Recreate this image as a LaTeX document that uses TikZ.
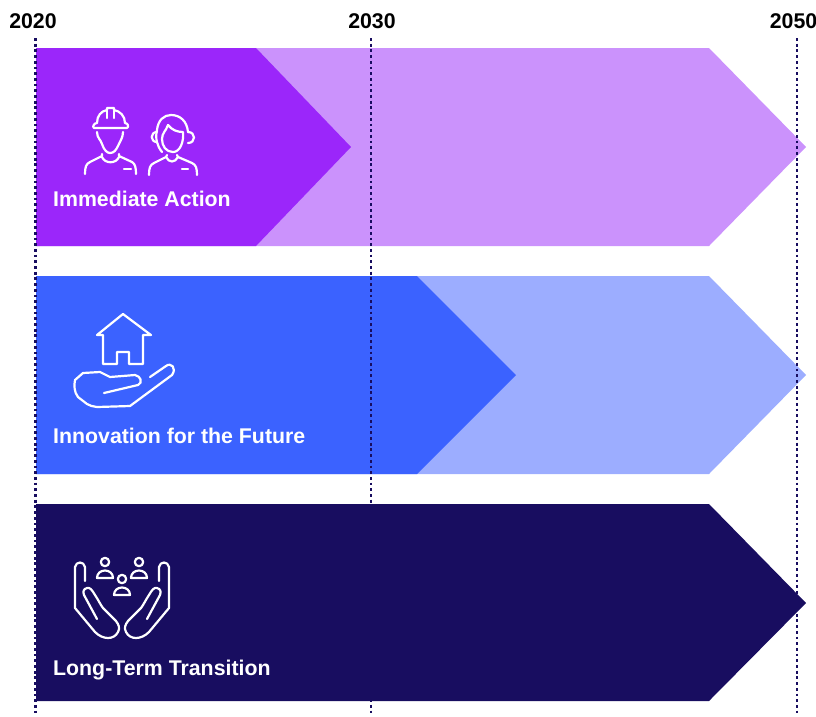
\documentclass[tikz,border=0pt]{standalone}
\usepackage{fontspec}
\setmainfont{Liberation Sans}
\definecolor{pdark}{HTML}{9B26FA}
\definecolor{plight}{HTML}{CB92FC}
\definecolor{bdark}{HTML}{3B62FF}
\definecolor{blight}{HTML}{9CADFF}
\definecolor{navy}{HTML}{180D60}
\tikzset{
  yeartext/.style={font=\bfseries\fontsize{21.3pt}{24pt}\selectfont,text=black,inner sep=0pt},
  bandlabel/.style={font=\bfseries\fontsize{21.3pt}{24pt}\selectfont,text=white,inner sep=0pt,anchor=base west},
  yearline/.style={draw=navy,line width=2.8pt,dash pattern=on 2.8pt off 2.9pt},
  icon/.style={draw=white,line width=2.2pt,line cap=round,line join=round},
}
\begin{document}
\begin{tikzpicture}[x=1pt,y=-1pt]
\useasboundingbox (0,0) rectangle (816,716);
\node[yeartext] (y20) at (33,21) {2020};
\node[yeartext] (y30) at (372,21) {2030};
\node[yeartext] (y50) at (793.5,21) {2050};
\coordinate (t20) at (35.5,38); \coordinate (b20) at (35.5,716);
\coordinate (t30) at (371,38); \coordinate (b30) at (371,716);
\coordinate (t50) at (797,38); \coordinate (b50) at (797,716);
% bands
\fill[plight] (36,48) -- (709,48) -- (806,147) -- (709,246) -- (36,246) -- cycle;
\fill[blight] (36,276) -- (709,276) -- (806,375) -- (709,474) -- (36,474) -- cycle;
\fill[pdark] (36,48) -- (256,48) -- (351,147) -- (256,246) -- (36,246) -- cycle;
\fill[bdark] (36,276) -- (417,276) -- (516,375) -- (417,474) -- (36,474) -- cycle;
\draw[yearline] (t20) -- (b20);
\draw[yearline] (t30) -- (b30);
\draw[yearline] (t50) -- (b50);
\fill[navy] (36,504) -- (709,504) -- (806,603) -- (709,701) -- (36,701) -- cycle;
\node[bandlabel] (l1) at (53,206) {Immediate Action};
\node[bandlabel] (l2) at (53,443) {Innovation for the Future};
\node[bandlabel] (l3) at (53,675) {Long-Term Transition};
\begin{scope}[icon]
% worker
\draw (94,128) -- (127,128) .. controls (129,127) and (128,123) .. (125,123) .. controls (125,116) and (120,111) .. (114,110) -- (114,108) -- (107,108) -- (107,110) .. controls (101,111) and (97,116) .. (97,123) .. controls (94,123) and (92,127) .. (94,128) -- cycle;
\draw (107,111) -- (107,118); \draw (114,111) -- (114,118);
\draw (97,132) .. controls (97,138) and (101,140) .. (102,144) .. controls (104,150) and (107,153) .. (110,153) .. controls (114,153) and (116,150) .. (118,146) .. controls (120,141) and (123,138) .. (123,132);
\draw (102,154) -- (102,156) -- (90,162) .. controls (86,164) and (85,167) .. (85,174);
\draw (119,154) -- (119,156) -- (132,162) .. controls (135,164) and (136,167) .. (136,174);
\draw (102,157) .. controls (105,164) and (116,164) .. (119,157);
\draw (124,169) -- (131,169);
% woman
\draw (162,152) .. controls (157,146) and (155,138) .. (157,130) .. controls (158,120) and (164,115) .. (171,115) .. controls (180,115) and (187,121) .. (188,132);
\draw (157,132) .. controls (150,132) and (150,142) .. (157,142);
\draw (188,132) .. controls (196,132) and (196,143) .. (188,143);
\draw (168,125) .. controls (172,130) and (177,132) .. (183,132) .. controls (184,142) and (180,152) .. (173,152) .. controls (166,152) and (162,146) .. (162,139) .. controls (162,133) and (166,131) .. (168,125);
\draw (167,155) -- (166,157) -- (154,163) .. controls (150,165) and (149,168) .. (149,175);
\draw (177,155) -- (178,157) -- (192,163) .. controls (196,165) and (197,168) .. (197,175);
\draw (166,157) .. controls (169,163) and (175,163) .. (178,157);
\draw (182,169) -- (188,169);
% house in hand
\draw (97,335) -- (123,314) -- (151,335) -- (143,335) -- (143,364) -- (129,364) -- (129,352) -- (117,352) -- (117,364) -- (103,364) -- (103,335) -- cycle;
\draw (150,377) -- (166,366) .. controls (171,362) and (177,368) .. (172,375) -- (130,406) -- (97,407) .. controls (92,406) and (90,406) .. (87,404) -- (78,397) .. controls (74,392) and (74,385) .. (75,380) -- (83,373) -- (100,372) -- (110,377) -- (135,375) .. controls (141,376) and (143,383) .. (138,385) -- (104,393);
% people in hands
\draw (85,581) -- (85,567) .. controls (84,561) and (76,561) .. (75,567) -- (75,608) -- (95,632) .. controls (103,640) and (114,640) .. (118,632) .. controls (120,628) and (119,625) .. (116,621) -- (103,608) .. controls (100,604) and (99,601) .. (95,595) .. controls (92,590) and (90,587) .. (87,588) .. controls (83,589) and (83,592) .. (84,595) -- (97,619);
\draw (159,581) -- (159,567) .. controls (160,561) and (168,561) .. (169,567) -- (169,608) -- (149,632) .. controls (141,640) and (130,640) .. (126,632) .. controls (124,628) and (125,625) .. (128,621) -- (141,608) .. controls (144,604) and (145,601) .. (149,595) .. controls (152,590) and (154,587) .. (157,588) .. controls (161,589) and (161,592) .. (160,595) -- (147,619);
\foreach \px/\py in {105/562,139/562,122/579} {
  \draw (\px,\py) circle (4.2);
  \draw (\px-8,\py+16) .. controls (\px-8,\py+6) and (\px+8,\py+6) .. (\px+8,\py+16) -- cycle;
}
\end{scope}
\end{tikzpicture}
\end{document}
